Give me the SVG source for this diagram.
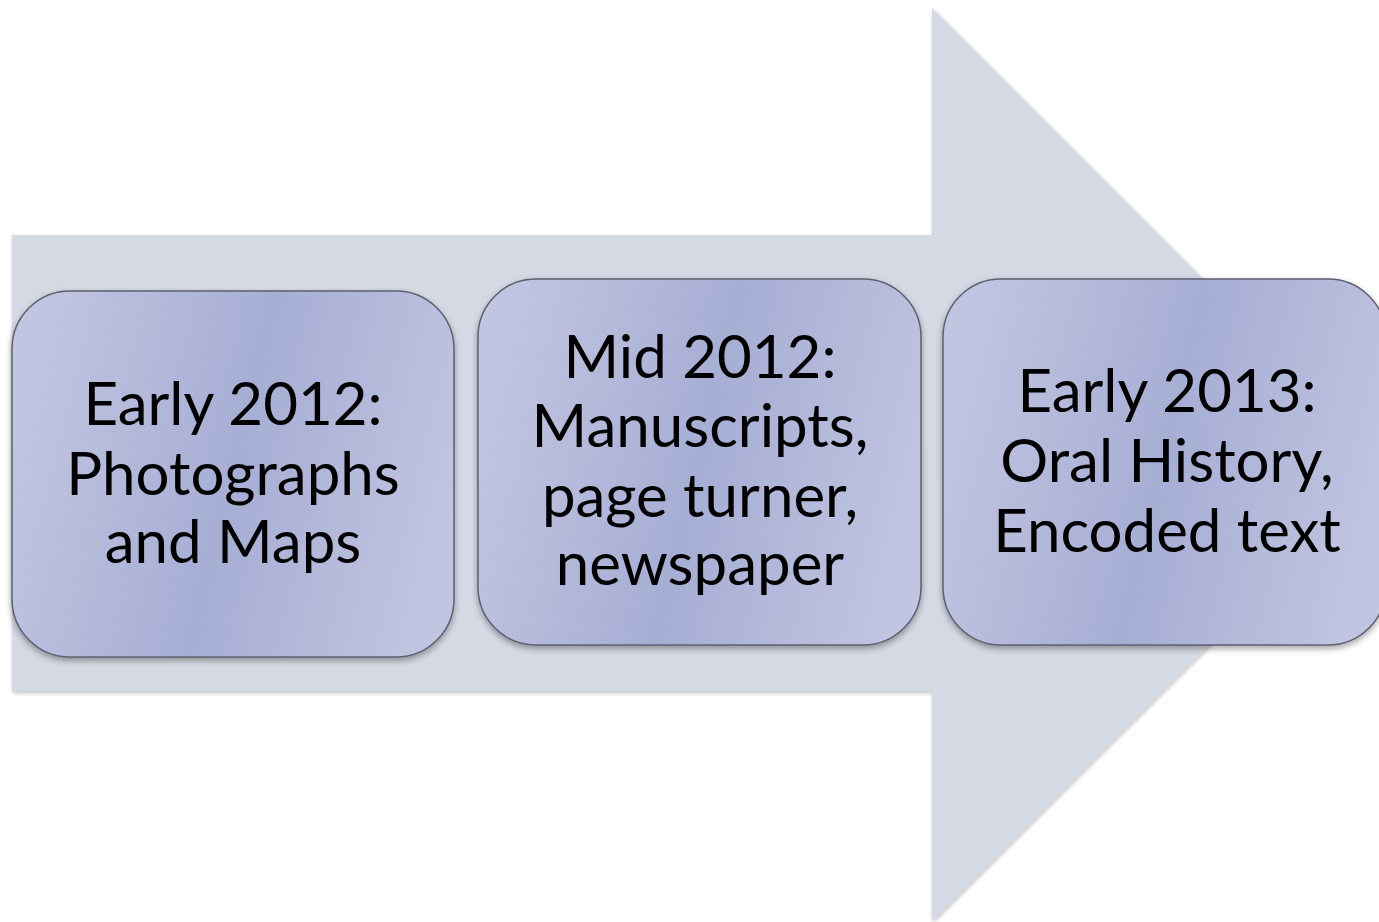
<svg xmlns="http://www.w3.org/2000/svg" width="1379" height="922" viewBox="0 0 1379 922">
<style>
.lbl{font-family:Lato,"Open Sans","Liberation Sans",sans-serif;font-size:60px;fill:#000;text-anchor:middle}
.box{fill:url(#g);stroke:#5c6070;stroke-width:1.5;filter:url(#sh)}
</style>
<defs>
<linearGradient id="g" x1="0" y1="0.4" x2="1" y2="0.6">
<stop offset="0" stop-color="#c1c5e1"/>
<stop offset="0.5" stop-color="#a7aed4"/>
<stop offset="1" stop-color="#c1c5e1"/>
</linearGradient>
<filter id="sh" x="-10%" y="-10%" width="120%" height="125%">
<feDropShadow dx="0" dy="3" stdDeviation="3" flood-color="#000" flood-opacity="0.35"/>
</filter>
<filter id="ash" x="-5%" y="-5%" width="110%" height="110%">
<feDropShadow dx="1" dy="2" stdDeviation="2" flood-color="#000" flood-opacity="0.25"/>
</filter>
</defs>
<rect width="1379" height="922" fill="#fff"/>
<g id="arrow">
<polygon points="12,235 932,235 932,8 1389,465 932,921 932,691 12,691" fill="#d5d9e3" filter="url(#ash)"/>
</g>
<g id="node1">
<rect class="box" x="12" y="291" width="442" height="366" rx="58"/>
<text class="lbl" x="233" y="425">Early 2012:</text>
<text class="lbl" x="233" y="495">Photographs</text>
<text class="lbl" x="233" y="563">and Maps</text>
</g>
<g id="node2">
<rect class="box" x="478" y="279" width="443" height="366" rx="58"/>
<text class="lbl" x="700" y="378">Mid 2012:</text>
<text class="lbl" x="700" y="447">Manuscripts,</text>
<text class="lbl" x="700" y="517">page turner,</text>
<text class="lbl" x="700" y="585">newspaper</text>
</g>
<g id="node3">
<rect class="box" x="943" y="279" width="443" height="366" rx="58"/>
<text class="lbl" x="1167" y="412">Early 2013:</text>
<text class="lbl" x="1167" y="482">Oral History,</text>
<text class="lbl" x="1167" y="552">Encoded text</text>
</g>
<g id="connectors"></g>
</svg>
